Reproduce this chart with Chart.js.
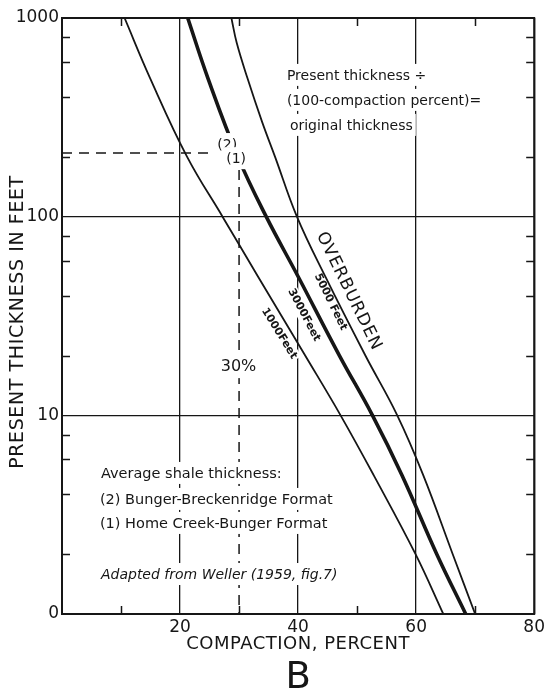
<!DOCTYPE html>
<html>
<head>
<meta charset="utf-8">
<script src="https://cdn.jsdelivr.net/npm/chart.js@4.4.1/dist/chart.umd.min.js"></script>
<style>
  html, body { margin: 0; padding: 0; background: #fff; }
  #wrap { width: 548px; height: 700px; }
</style>
</head>
<body>
<div id="wrap"><canvas id="compactionChart" width="548" height="700"></canvas></div>
<script>
const thicknessFeet = [1000, 500, 200, 100, 50, 20, 10, 5, 2, 1];
const compaction1000 = [10.6, 14.9, 21.2, 27.2, 33.2, 41.2, 47.2, 52.8, 59.9, 64.6];
const compaction3000 = [21.3, 24.7, 29.8, 34.6, 40.0, 47.0, 52.6, 57.6, 63.5, 68.4];
const thickness5000 = [1000, 750, 500, 300, 200, 100, 50, 20, 10, 5, 2, 1];
const compaction5000 = [28.7, 29.6, 31.4, 33.9, 36.1, 39.8, 44.6, 51.4, 56.8, 61.2, 66.2, 70.0];

// dashed guide: average shale thickness read at 30 % compaction
const guideThickness = 209;
const guideCompaction = 30;

const xTickValues = [20, 40, 60, 80];
const yTickValues = [1, 10, 100, 1000];
const yTickLabels = ["0", "10", "100", "1000"];
const xMinorTicks = [10, 30, 50, 70];
const yMinorTicks = [2, 4, 6, 8, 20, 40, 60, 80, 200, 400, 600, 800];

const ink = "#161616";
const family = "'DejaVu Sans', sans-serif";

function toPoints(xs, ys) {
    return xs.map((x, i) => ({ x: x, y: ys[i] }));
}

function flatNote(ctx, text, x, y, font) {
    ctx.font = font;
    ctx.textAlign = "left";
    ctx.textBaseline = "alphabetic";
    const m = ctx.measureText(text);
    ctx.fillStyle = "#fff";
    ctx.fillRect(x - 3, y - m.fontBoundingBoxAscent - 3, m.width + 6,
        m.fontBoundingBoxAscent + m.fontBoundingBoxDescent + 6);
    ctx.fillStyle = ink;
    ctx.fillText(text, x, y);
}

function slantNote(ctx, text, x, y, deg, font, spacing) {
    ctx.save();
    ctx.translate(x, y);
    ctx.rotate(deg * Math.PI / 180);
    ctx.font = font;
    ctx.letterSpacing = spacing || "0px";
    ctx.textAlign = "center";
    ctx.textBaseline = "middle";
    const w = ctx.measureText(text).width;
    ctx.fillStyle = "#fff";
    ctx.fillRect(-w / 2 - 2, -7, w + 4, 14);
    ctx.fillStyle = ink;
    ctx.fillText(text, 0, 0);
    ctx.restore();
}

const annotate = {
    id: "annotate",
    beforeDatasetsDraw(chart) {
        const ctx = chart.ctx;
        const xs = chart.scales.x, ys = chart.scales.y;
        const px = (v) => xs.getPixelForValue(v);
        const py = (v) => ys.getPixelForValue(v);
        slantNote(ctx, "1000Feet", px(36.8), py(25.8), 58, `bold 11px ${family}`);
        slantNote(ctx, "3000Feet", px(41.0), py(32.0), 62, `bold 11px ${family}`);
        slantNote(ctx, "5000 Feet", px(45.5), py(37.2), 64, `bold 11px ${family}`);
        slantNote(ctx, "OVERBURDEN", px(48.6), py(42.1), 64, `17px ${family}`, "1px");
    },
    afterDatasetsDraw(chart) {
        const ctx = chart.ctx;
        const xs = chart.scales.x, ys = chart.scales.y;
        const px = (v) => xs.getPixelForValue(v);
        const py = (v) => ys.getPixelForValue(v);

        const noteX = px(38.1), noteY = py(488);
        flatNote(ctx, "Present thickness \u00f7", noteX, noteY, `14px ${family}`);
        flatNote(ctx, "(100-compaction percent)=", noteX, noteY + 25, `14px ${family}`);
        flatNote(ctx, "original thickness", noteX + 3, noteY + 50, `14px ${family}`);

        ctx.font = `14px ${family}`;
        const t2 = "(2)", t1 = "(1)";
        flatNote(ctx, t2, px(28.0) - ctx.measureText(t2).width / 2, py(232) + 5, `14px ${family}`);
        flatNote(ctx, t1, px(29.5) - ctx.measureText(t1).width / 2, py(197) + 5, `14px ${family}`);

        ctx.font = `16px ${family}`;
        flatNote(ctx, "30%", px(29.9) - ctx.measureText("30%").width / 2, py(17.9) + 6, `16px ${family}`);

        const legX = px(6.6), legY = py(4.84);
        flatNote(ctx, "Average shale thickness:", legX, legY, `14.5px ${family}`);
        flatNote(ctx, "(2) Bunger-Breckenridge Format", legX - 1, legY + 26, `14.5px ${family}`);
        flatNote(ctx, "(1) Home Creek-Bunger Format", legX - 1, legY + 50, `14.5px ${family}`);
        flatNote(ctx, "Adapted from Weller (1959, fig.7)", legX, py(1.5), `italic 14px ${family}`);
    },
    afterDraw(chart) {
        const ctx = chart.ctx;
        const a = chart.chartArea;
        const xs = chart.scales.x, ys = chart.scales.y;
        ctx.save();
        ctx.strokeStyle = ink;
        ctx.lineWidth = 1.5;
        ctx.beginPath();
        yMinorTicks.forEach((v) => {
            const y = Math.round(ys.getPixelForValue(v)) + 0.5;
            ctx.moveTo(a.left, y); ctx.lineTo(a.left + 8, y);
            ctx.moveTo(a.right, y); ctx.lineTo(a.right - 8, y);
        });
        xMinorTicks.forEach((v) => {
            const x = Math.round(xs.getPixelForValue(v)) + 0.5;
            ctx.moveTo(x, a.top); ctx.lineTo(x, a.top + 8);
            ctx.moveTo(x, a.bottom); ctx.lineTo(x, a.bottom - 8);
        });
        ctx.stroke();
        ctx.lineWidth = 2;
        ctx.strokeRect(a.left, a.top, a.right - a.left, a.bottom - a.top);

        ctx.fillStyle = ink;
        ctx.textAlign = "center";
        ctx.textBaseline = "middle";
        ctx.font = `18px ${family}`;
        ctx.letterSpacing = "0.5px";
        ctx.fillText("COMPACTION, PERCENT", (a.left + a.right) / 2, a.bottom + 30);
        ctx.save();
        ctx.translate(18, (a.top + a.bottom) / 2 + 6);
        ctx.rotate(-Math.PI / 2);
        ctx.font = `19px ${family}`;
        ctx.letterSpacing = "0.6px";
        ctx.fillText("PRESENT THICKNESS IN FEET", 0, 0);
        ctx.restore();
        ctx.letterSpacing = "0px";
        ctx.font = `37px ${family}`;
        ctx.fillText("B", (a.left + a.right) / 2, a.bottom + 64);
        ctx.restore();
    }
};

const curveLine = { borderColor: ink, borderWidth: 1.8, pointRadius: 0, tension: 0.4, fill: false };
const dashLine = { borderColor: ink, borderWidth: 1.5, borderDash: [10, 7], pointRadius: 0, tension: 0, fill: false };

new Chart(document.getElementById("compactionChart"), {
    type: "line",
    data: {
        datasets: [
            { ...curveLine, label: "1000 Feet", data: toPoints(compaction1000, thicknessFeet) },
            { ...curveLine, label: "3000 Feet", borderWidth: 3.6, data: toPoints(compaction3000, thicknessFeet) },
            { ...curveLine, label: "5000 Feet", data: toPoints(compaction5000, thickness5000) },
            { ...dashLine, label: "guide h", data: [{ x: 0, y: guideThickness }, { x: guideCompaction, y: guideThickness }] },
            { ...dashLine, label: "guide v", data: [{ x: guideCompaction, y: guideThickness }, { x: guideCompaction, y: 1 }] },
        ],
    },
    options: {
        responsive: false,
        animation: false,
        devicePixelRatio: 1,
        layout: { padding: { top: 18, right: 12, left: 0, bottom: 0 } },
        plugins: { legend: { display: false }, tooltip: { enabled: false } },
        scales: {
            x: {
                type: "linear",
                min: 0,
                max: 80,
                afterBuildTicks(scale) { scale.ticks = xTickValues.map((v) => ({ value: v })); },
                afterFit(scale) { scale.height = 86; },
                ticks: { color: ink, font: { family: "DejaVu Sans", size: 17 }, padding: 3, maxRotation: 0, autoSkip: false },
                grid: { color: ink, lineWidth: 1.3, drawTicks: false },
                border: { display: false },
            },
            y: {
                type: "logarithmic",
                min: 1,
                max: 1000,
                afterBuildTicks(scale) { scale.ticks = yTickValues.map((v) => ({ value: v })); },
                afterFit(scale) { scale.width = 62; },
                ticks: {
                    color: ink,
                    font: { family: "DejaVu Sans", size: 17 },
                    padding: 3,
                    autoSkip: false,
                    callback: (v, i) => yTickLabels[i],
                },
                grid: { color: ink, lineWidth: 1.3, drawTicks: false },
                border: { display: false },
            },
        },
    },
    plugins: [annotate],
});
</script>
</body>
</html>
